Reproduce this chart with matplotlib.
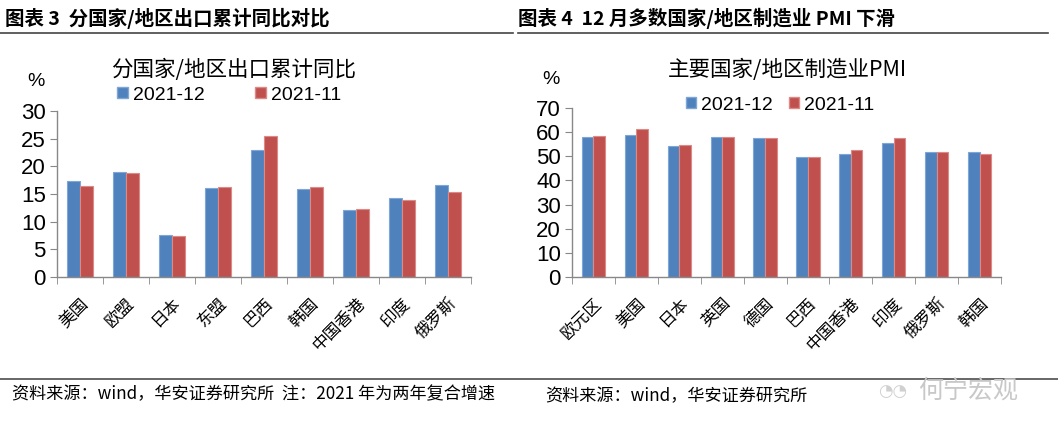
import matplotlib
matplotlib.use("Agg")
import matplotlib.pyplot as plt
import numpy as np
from matplotlib.lines import Line2D
from matplotlib.patches import Patch

plt.rcParams['font.family'] = ['Liberation Sans', 'Noto Sans CJK SC', 'DejaVu Sans']

# ---------------- data ----------------
export_categories = ["美国", "欧盟", "日本", "东盟", "巴西", "韩国", "中国香港", "印度", "俄罗斯"]
export_2021_12 = [17.3, 19.0, 7.6, 16.0, 22.9, 15.9, 12.1, 14.2, 16.7]
export_2021_11 = [16.4, 18.8, 7.5, 16.3, 25.4, 16.2, 12.2, 13.9, 15.3]

pmi_categories = ["欧元区", "美国", "日本", "英国", "德国", "巴西", "中国香港", "印度", "俄罗斯", "韩国"]
pmi_2021_12 = [58.0, 58.7, 54.3, 57.9, 57.4, 49.8, 50.8, 55.5, 51.6, 51.9]
pmi_2021_11 = [58.4, 61.1, 54.5, 58.1, 57.4, 49.8, 52.6, 57.6, 51.7, 50.9]

series_labels = ["2021-12", "2021-11"]
left_yticks = [0, 5, 10, 15, 20, 25, 30]
right_yticks = [0, 10, 20, 30, 40, 50, 60, 70]

BLUE = "#4F81BD"
RED = "#C0504D"
BLUE_EDGE = "#7FA6D6"
RED_EDGE = "#DC8A88"
AXC = "#888888"
CJK = ['Noto Sans CJK SC', 'DejaVu Sans']

W, H = 1058, 437
fig = plt.figure(figsize=(W / 100, H / 100), dpi=100)


def fx(px):
    return px / W


def fy(py):
    return 1 - py / H


def draw_panel(ax, cats, s1, s2, yticks, width):
    x = np.arange(len(cats))
    ax.bar(x - width / 2, s1, width, color=BLUE, edgecolor=BLUE_EDGE, linewidth=0.8)
    ax.bar(x + width / 2, s2, width, color=RED, edgecolor=RED_EDGE, linewidth=0.8)
    ax.set_xlim(-0.5, len(cats) - 0.5)
    ax.set_ylim(yticks[0], yticks[-1])
    ax.set_yticks(yticks)
    ax.set_yticklabels([str(v) for v in yticks], fontsize=16, family=['Liberation Sans'])
    ax.set_xticks(x)
    ax.set_xticklabels(cats, rotation=45, ha='right', va='top', rotation_mode='anchor',
                       fontsize=12, family=CJK)
    ax.set_xticks(np.arange(len(cats) + 1) - 0.5, minor=True)
    ax.tick_params(axis='x', which='major', length=0, pad=13)
    ax.tick_params(axis='x', which='minor', length=5, color=AXC, direction='out')
    ax.tick_params(axis='y', which='major', length=5, color=AXC, direction='out', pad=3)
    for s in ['top', 'right']:
        ax.spines[s].set_visible(False)
    for s in ['left', 'bottom']:
        ax.spines[s].set_color(AXC)
        ax.spines[s].set_linewidth(1.0)


# left panel
axL = fig.add_axes([fx(57), fy(277), fx(471 - 57), (277 - 111) / H])
draw_panel(axL, export_categories, export_2021_12, export_2021_11, left_yticks, 0.29)

# right panel
axR = fig.add_axes([fx(572), fy(277), fx(1001 - 572), (277 - 108) / H])
draw_panel(axR, pmi_categories, pmi_2021_12, pmi_2021_11, right_yticks, 0.27)

# legends
handles = [Patch(facecolor=BLUE, edgecolor=BLUE_EDGE), Patch(facecolor=RED, edgecolor=RED_EDGE)]
fig.legend(handles, series_labels, loc='center', bbox_to_anchor=(fx(229), fy(95)), ncol=2,
           frameon=False, prop={'family': 'Liberation Sans', 'size': 14},
           handlelength=0.55, handleheight=0.55, handletextpad=0.25, columnspacing=2.6,
           borderpad=0.1)
fig.legend(handles, series_labels, loc='center', bbox_to_anchor=(fx(780), fy(105)), ncol=2,
           frameon=False, prop={'family': 'Liberation Sans', 'size': 14},
           handlelength=0.55, handleheight=0.55, handletextpad=0.25, columnspacing=0.8,
           borderpad=0.1)

# chart titles and units
fig.text(fx(234), fy(70), "分国家/地区出口累计同比", ha='center', va='center', fontsize=15.5, family=CJK)
fig.text(fx(787), fy(70), "主要国家/地区制造业PMI", ha='center', va='center', fontsize=15.5, family=CJK)
fig.text(fx(36), fy(82), "%", ha='center', va='center', fontsize=14, family=['Liberation Sans'])
fig.text(fx(551), fy(79), "%", ha='center', va='center', fontsize=14, family=['Liberation Sans'])

# report headers
fig.text(fx(5), fy(18), "图表 3  分国家/地区出口累计同比对比", ha='left', va='center',
         fontsize=14, fontweight='bold', family=CJK)
fig.text(fx(518), fy(18), "图表 4  12 月多数国家/地区制造业 PMI 下滑", ha='left', va='center',
         fontsize=14, fontweight='bold', family=CJK)
fig.add_artist(Line2D([0, fx(513)], [fy(33), fy(33)], color='#444444', linewidth=1.2))
fig.add_artist(Line2D([fx(518), fx(1048)], [fy(33), fy(33)], color='#444444', linewidth=1.2))
fig.add_artist(Line2D([0, 1], [fy(379), fy(379)], color='#666666', linewidth=1.4))

# footers
fig.text(fx(12), fy(394), "资料来源：wind，华安证券研究所  注：2021 年为两年复合增速", ha='left', va='center',
         fontsize=12.3, family=CJK)
fig.text(fx(545), fy(396), "资料来源：wind，华安证券研究所", ha='left', va='center',
         fontsize=12.3, family=CJK)

# watermark
fig.text(fx(968), fy(391), "何宁宏观", ha='center', va='center', fontsize=18, color='#c8c8c8', family=CJK)
fig.text(fx(893), fy(391), "◔◔", ha='center', va='center', fontsize=12, color='#d0d0d0', family=['DejaVu Sans'])

fig.savefig("out.png", dpi=100)
